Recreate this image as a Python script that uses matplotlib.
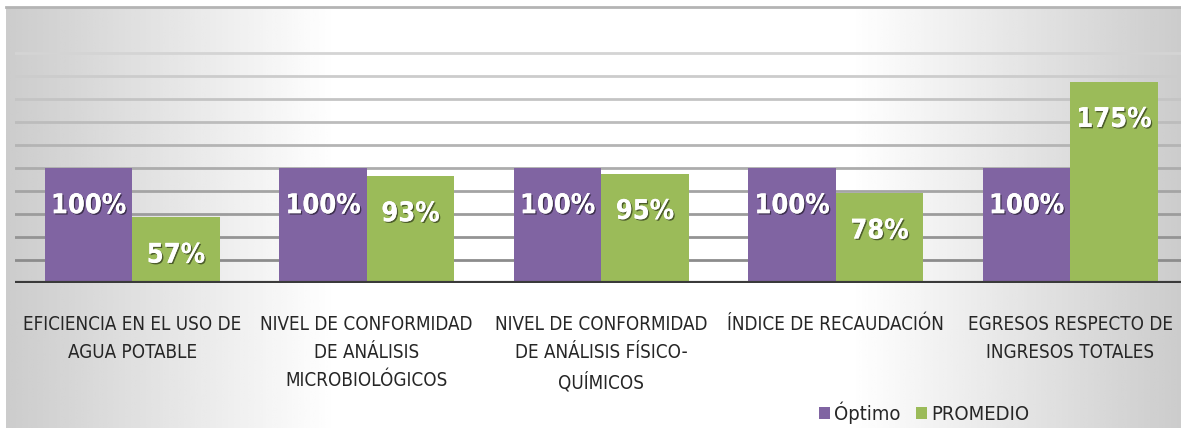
import numpy as np
import matplotlib
matplotlib.use("Agg")
import matplotlib.pyplot as plt
import matplotlib.patheffects as pe

# data
categories = ["EFICIENCIA EN EL USO DE\nAGUA POTABLE",
              "NIVEL DE CONFORMIDAD\nDE ANÁLISIS\nMICROBIOLÓGICOS",
              "NIVEL DE CONFORMIDAD\nDE ANÁLISIS FÍSICO-\nQUÍMICOS",
              "ÍNDICE DE RECAUDACIÓN",
              "EGRESOS RESPECTO DE\nINGRESOS TOTALES"]
optimo = [100, 100, 100, 100, 100]
promedio = [57, 93, 95, 78, 175]
series_names = ["Óptimo", "PROMEDIO"]
gridvals = [20, 40, 60, 80, 100, 120, 140, 160, 180, 200]

fam = ["DejaVu Sans"]
purple = "#8064a2"
green = "#9bbb59"

W, H = 1181, 428
fig = plt.figure(figsize=(W / 100, H / 100), dpi=100)

# background gradient (gray at edges, white in the middle)
bg = fig.add_axes([6 / W, 0, 1 - 6 / W, 1 - 7 / H])
xs = np.linspace(0, 1, 400)
shade = np.clip(np.minimum(xs / 0.28, (1 - xs) / 0.28), 0, 1)
vals = 0.80 + 0.20 * shade
bg.imshow(np.tile(vals, (2, 1)), cmap="gray", vmin=0, vmax=1, aspect="auto",
          extent=[0, 1, 0, 1])
bg.set_xlim(0, 1)
bg.set_ylim(0, 1)
bg.axis("off")
bg.plot([0, 1], [1, 1], color="#b4b4b4", lw=2, clip_on=False)

# plot area
x0, x1 = 15, 1181
ytop, ybase = 8, 283
px_per_cat = 234.5
ax = fig.add_axes([x0 / W, (H - ybase) / H, (x1 - x0) / W, (ybase - ytop) / H])
ax.patch.set_alpha(0)
ax.set_xlim(-0.5, -0.5 + (x1 - x0) / px_per_cat)
ax.set_ylim(0, (ybase - ytop) / 115 * 100)

for i, g in enumerate(gridvals):
    t = i / (len(gridvals) - 1)
    c = 0.55 + 0.28 * t
    ax.axhline(g, color=(c, c, c), lw=2, zorder=1)
ax.axhline(0, color="#3a3a3a", lw=3, zorder=4)

x = np.arange(len(categories))
w = 0.373
b1 = ax.bar(x - w / 2, optimo, w, color=purple, zorder=3, label=series_names[0])
b2 = ax.bar(x + w / 2, promedio, w, color=green, zorder=3, label=series_names[1])

shadow = [pe.withSimplePatchShadow(offset=(1.0, -1.0), shadow_rgbFace="black", alpha=0.5),
          pe.Normal()]
for bars, vals_ in ((b1, optimo), (b2, promedio)):
    for rect, v in zip(bars, vals_):
        ax.annotate(f"{v}%", (rect.get_x() + rect.get_width() / 2, v),
                    xytext=(0, -27.5), textcoords="offset points",
                    ha="center", va="center", color="white", fontsize=19.5,
                    fontweight="bold", family=fam, fontstretch="condensed",
                    path_effects=shadow, zorder=5)

ax.set_xticks(x)
ax.set_xticklabels(categories, family=fam, fontstretch="condensed", fontsize=13.5,
                   color="#262626", linespacing=1.6, va="top")
ax.tick_params(axis="x", length=0, pad=23)
ax.set_yticks([])
for s in ax.spines.values():
    s.set_visible(False)

fig.legend(handles=[b1, b2], labels=series_names, loc="center",
           bbox_to_anchor=(924 / W, 1 - 413 / H), ncol=2, frameon=False,
           prop={"family": fam, "size": 14.5, "stretch": "condensed"},
           handlelength=0.55, handleheight=0.55,
           handletextpad=0.2, columnspacing=0.8, labelcolor="#262626")

fig.savefig("out.png", dpi=100)
